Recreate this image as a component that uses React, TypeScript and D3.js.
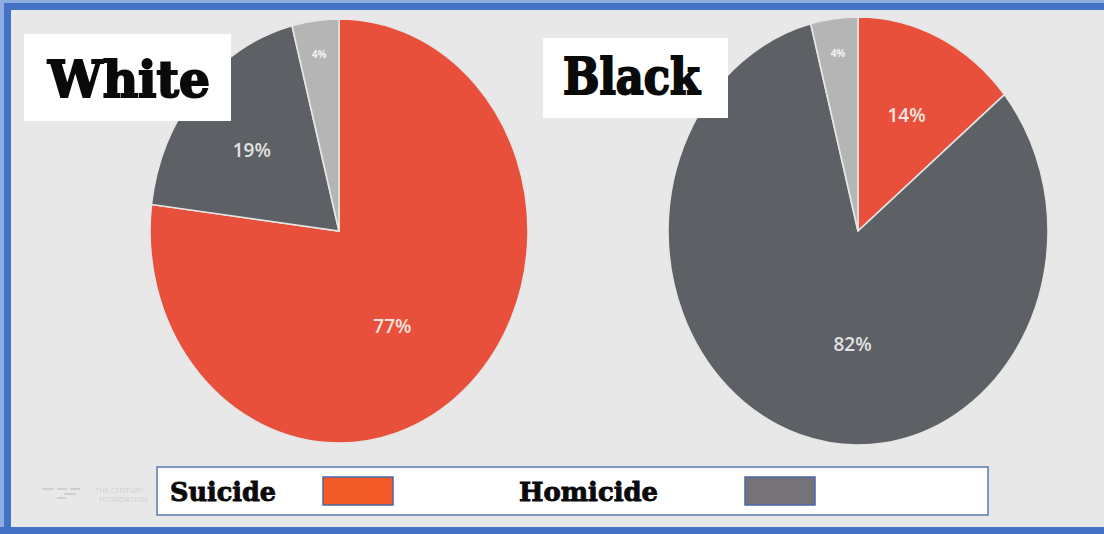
import React from "react";
import * as d3 from "d3";

const categories = ["Suicide", "Homicide", "Other"];
const groups = ["White", "Black"];
const whiteValues = [77, 19, 4];
const blackValues = [14, 82, 4];
const legendLabels = ["Suicide", "Homicide"];

const W = 1104;
const H = 534;
const BG = "#E8E8E8";
const sliceColors = ["#E8503B", "#5D6165", "#B5B5B5"];
const labelColors = ["#F6E4E1", "#E2E3E4", "#F2F2F2"];
const legendColors = ["#F25A28", "#757278"];

const pies = [
  { values: whiteValues, cx: 339, cy: 231, rx: 189, ry: 212, box: [24, 34, 207, 87], tx: 48, ty: 97, tlen: 162 },
  { values: blackValues, cx: 858, cy: 231, rx: 190, ry: 214, box: [543, 38, 185, 80], tx: 563, ty: 94, tlen: 137 },
];

// label radius fraction (layout), by slice size
function labelR(v: number) {
  return v < 8 ? 0.84 : v > 60 ? 0.53 : 0.6;
}
function labelShift(v: number) {
  return v > 80 ? -0.26 : v > 60 ? 0.16 : v < 8 ? 0 : v > 16 ? -0.03 : 0;
}

export default function App() {
  const pieGen = d3.pie<number>().sort(null).value((d) => d);
  return (
    <svg width={W} height={H} style={{ position: "absolute", left: 0, top: 0 }}>
      <rect x={0} y={0} width={W} height={H} fill={BG} />
      {pies.map((p, pi) => {
        const arcs = pieGen(p.values);
        const arc = d3.arc<d3.PieArcDatum<number>>().innerRadius(0).outerRadius(p.rx);
        return (
          <g key={pi}>
            <g transform={`translate(${p.cx},${p.cy}) scale(1,${p.ry / p.rx})`}>
              {arcs.map((a, i) => (
                <path
                  key={i}
                  d={arc(a) || ""}
                  fill={sliceColors[i]}
                  stroke="#E6E6E6"
                  strokeWidth={1.6}
                  vectorEffect="non-scaling-stroke"
                />
              ))}
            </g>
            {arcs.map((a, i) => {
              const v = p.values[i];
              const ang = (a.startAngle + a.endAngle) / 2 + labelShift(v);
              const f = labelR(v);
              const x = p.cx + Math.sin(ang) * p.rx * f;
              const y = p.cy - Math.cos(ang) * p.ry * f;
              const small = v < 8;
              return (
                <text
                  key={"l" + i}
                  x={x}
                  y={y}
                  textAnchor="middle"
                  dominantBaseline="central"
                  fontFamily="'Open Sans', sans-serif"
                  fontWeight={small ? 700 : 600}
                  fontSize={small ? 10 : 19}
                  fill={labelColors[i]}
                >
                  {v}%
                </text>
              );
            })}
            <rect x={p.box[0]} y={p.box[1]} width={p.box[2]} height={p.box[3]} fill="#FFFFFF" />
            <text
              x={p.tx}
              y={p.ty}
              fontFamily="'DejaVu Serif', serif"
              fontWeight={700}
              fontSize={50}
              textLength={p.tlen}
              lengthAdjust="spacingAndGlyphs"
              fill="#0A0A0A"
              stroke="#0A0A0A"
              strokeWidth={2}
            >
              {groups[pi]}
            </text>
          </g>
        );
      })}
      {/* faint logo */}
      <g fill="#CFCFCF" stroke="none">
        <rect x={42} y={488} width={12} height={2} />
        <rect x={57} y={488} width={10} height={2} />
        <rect x={70} y={488} width={10} height={2} />
        <rect x={64} y={493} width={12} height={2} />
        <rect x={57} y={497} width={9} height={2} />
        <text x={95} y={493} fontFamily="'Open Sans', sans-serif" fontSize={7.5}>THE CENTURY</text>
        <text x={99} y={502} fontFamily="'Open Sans', sans-serif" fontSize={7.5}>FOUNDATION</text>
      </g>
      {/* legend */}
      <rect x={157} y={467} width={831} height={48} fill="#FFFFFF" stroke="#5B77B0" strokeWidth={1.5} />
      {legendLabels.map((l, i) => (
        <g key={l}>
          <text
            x={[170, 519][i]}
            y={501}
            fontFamily="'DejaVu Serif', serif"
            fontWeight={700}
            fontSize={26}
            textLength={[106, 139][i]}
            lengthAdjust="spacingAndGlyphs"
            fill="#0A0A0A"
            stroke="#0A0A0A"
            strokeWidth={0.9}
          >
            {l}
          </text>
          <rect
            x={[323, 745][i]}
            y={477}
            width={70}
            height={28}
            fill={legendColors[i]}
            stroke="#4A67A8"
            strokeWidth={1.5}
          />
        </g>
      ))}
      {/* frame */}
      <rect x={0} y={0} width={W} height={3} fill="#8EADE0" />
      <rect x={0} y={3} width={W} height={7} fill="#4472C4" />
      <rect x={0} y={0} width={4} height={H} fill="#8EADE0" />
      <rect x={4} y={3} width={7} height={H} fill="#4472C4" />
      <rect x={0} y={527} width={W} height={7} fill="#4472C4" />
    </svg>
  );
}
